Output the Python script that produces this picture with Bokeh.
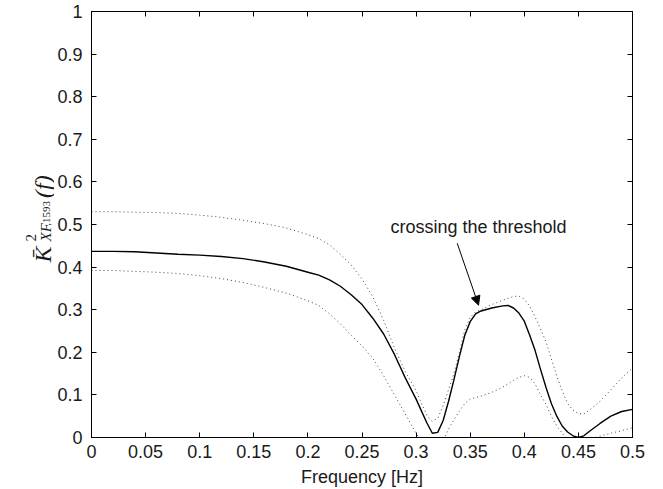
import math
from bokeh.plotting import figure
from bokeh.models import Range1d, FixedTicker, LinearAxis, Label, Arrow, NormalHead
from bokeh.layouts import row
from bokeh.core.properties import value
from bokeh.embed import file_html
from bokeh.resources import INLINE

# ---- data ----
freq = [0.0, 0.02, 0.04, 0.06, 0.08, 0.10, 0.12, 0.14, 0.16, 0.18, 0.20, 0.21, 0.22, 0.23,
        0.24, 0.25, 0.26, 0.27, 0.28, 0.29, 0.30, 0.305, 0.31, 0.315, 0.32, 0.325, 0.33,
        0.335, 0.34, 0.345, 0.35, 0.355, 0.36, 0.37, 0.38, 0.385, 0.39, 0.395, 0.40, 0.405,
        0.41, 0.415, 0.42, 0.425, 0.43, 0.435, 0.44, 0.445, 0.45, 0.455, 0.46, 0.47, 0.48,
        0.49, 0.50]

coherence = [0.437, 0.437, 0.436, 0.433, 0.430, 0.428, 0.425, 0.420, 0.412, 0.402, 0.388,
             0.381, 0.370, 0.355, 0.335, 0.312, 0.280, 0.243, 0.195, 0.140, 0.090, 0.062,
             0.034, 0.010, 0.012, 0.040, 0.085, 0.136, 0.190, 0.240, 0.272, 0.290, 0.297,
             0.304, 0.309, 0.310, 0.304, 0.292, 0.273, 0.240, 0.204, 0.160, 0.118, 0.080,
             0.050, 0.027, 0.013, 0.004, 0.000, 0.004, 0.014, 0.033, 0.050, 0.061, 0.066]

upper = [0.530, 0.530, 0.529, 0.528, 0.526, 0.522, 0.517, 0.510, 0.502, 0.492, 0.476,
         0.467, 0.452, 0.430, 0.405, 0.372, 0.330, 0.275, 0.210, 0.155, 0.110, 0.080,
         0.052, 0.038, 0.045, 0.075, 0.112, 0.150, 0.200, 0.253, 0.282, 0.295, 0.300,
         0.312, 0.322, 0.327, 0.331, 0.332, 0.325, 0.308, 0.283, 0.255, 0.225, 0.185,
         0.144, 0.110, 0.080, 0.064, 0.056, 0.055, 0.064, 0.085, 0.112, 0.140, 0.163]

lower = [0.392, 0.392, 0.390, 0.388, 0.385, 0.380, 0.373, 0.364, 0.352, 0.339, 0.321,
         0.310, 0.290, 0.267, 0.240, 0.215, 0.186, 0.145, 0.100, 0.055, 0.010, -0.010,
         -0.030, -0.040, -0.030, -0.008, 0.020, 0.042, 0.062, 0.080, 0.090, 0.094, 0.097,
         0.106, 0.118, 0.126, 0.134, 0.141, 0.145, 0.141, 0.126, 0.100, 0.078, 0.050,
         0.027, 0.010, -0.005, -0.015, -0.020, -0.018, -0.005, 0.003, 0.010, 0.016, 0.023]

x_ticks = [0, 0.05, 0.1, 0.15, 0.2, 0.25, 0.3, 0.35, 0.4, 0.45, 0.5]
x_tick_labels = ["0", "0.05", "0.1", "0.15", "0.2", "0.25", "0.3", "0.35", "0.4", "0.45", "0.5"]
y_ticks = [0, 0.1, 0.2, 0.3, 0.4, 0.5, 0.6, 0.7, 0.8, 0.9, 1.0]
y_tick_labels = ["0", "0.1", "0.2", "0.3", "0.4", "0.5", "0.6", "0.7", "0.8", "0.9", "1"]

SANS = "Liberation Sans"
SERIF = "Liberation Serif"
TXT = "#1a1a1a"
LABEL_W = 54

p = figure(width=663 - LABEL_W, height=489, output_backend="svg", toolbar_location=None,
           x_range=Range1d(0, 0.5), y_range=Range1d(0, 1),
           min_border_left=91 - LABEL_W, min_border_right=31, min_border_top=11,
           min_border_bottom=51)
p.background_fill_color = "white"
p.border_fill_color = "white"
p.grid.visible = False
p.outline_line_color = "black"
p.outline_line_width = 1


def style_axis(ax, ticks, labels=None, standoff=7):
    ax.ticker = FixedTicker(ticks=ticks)
    ax.major_tick_in = 5
    ax.major_tick_out = 0
    ax.minor_tick_line_color = None
    ax.axis_line_color = "black"
    ax.major_tick_line_color = "black"
    ax.major_label_text_font = SANS
    if labels is None:
        ax.major_label_text_color = None
        ax.major_label_text_font_size = "1px"
        ax.major_label_standoff = 0
    else:
        ax.major_label_text_color = TXT
        ax.major_label_text_font_size = "18px"
        ax.major_label_standoff = standoff
        ax.major_label_overrides = {t: l for t, l in zip(ticks, labels)}


style_axis(p.xaxis[0], x_ticks, x_tick_labels, standoff=7)
style_axis(p.yaxis[0], y_ticks, y_tick_labels, standoff=9)
p.xaxis[0].axis_label = "Frequency [Hz]"
p.xaxis[0].axis_label_text_font = SANS
p.xaxis[0].axis_label_text_font_size = "18px"
p.xaxis[0].axis_label_text_font_style = "normal"
p.xaxis[0].axis_label_text_color = TXT
p.xaxis[0].axis_label_standoff = 6

top_ax = LinearAxis()
style_axis(top_ax, x_ticks)
p.add_layout(top_ax, "above")
right_ax = LinearAxis()
style_axis(right_ax, y_ticks)
p.add_layout(right_ax, "right")

# curves
p.line(freq, upper, line_color="#444444", line_width=1, line_dash="1 3")
p.line(freq, lower, line_color="#444444", line_width=1, line_dash="1 3")
p.line(freq, coherence, line_color="black", line_width=1.4)

# annotation
p.add_layout(Label(x=0.3577, y=0.495, text="crossing the threshold", text_align="center",
                   text_baseline="middle", text_font=SANS, text_font_size="18px",
                   text_color=TXT))
p.add_layout(Arrow(end=NormalHead(size=9, fill_color="black", line_color="black", line_width=1),
                   x_start=0.338, y_start=0.456, x_end=0.3577, y_end=0.3107,
                   line_color="black", line_width=1))

# ---- y-axis label panel (pixel coordinates, built from pieces, rotated) ----
H = 489
lf = figure(width=LABEL_W, height=H, output_backend="svg", toolbar_location=None,
            x_range=Range1d(0, LABEL_W), y_range=Range1d(0, H),
            min_border=0, min_border_left=0, min_border_right=0,
            min_border_top=0, min_border_bottom=0)
lf.axis.visible = False
lf.grid.visible = False
lf.outline_line_color = None
lf.background_fill_color = "white"
lf.border_fill_color = "white"


def ylab(px, py, text, size, style="italic"):
    lf.text(x=[px], y=[H - py], text=[text], angle=math.pi / 2,
            text_align="left", text_baseline="alphabetic",
            text_font=value(SERIF), text_font_size=size, text_font_style=style,
            text_color=TXT)


ylab(42, 288, "K\u0304", "24px")
ylab(30, 264, "2", "15px", style="normal")
ylab(45, 264, "XF", "15px")
ylab(46, 246, ",1593", "11px", style="normal")
ylab(42, 214, "(f)", "24px")

layout = row(lf, p)
open("out.html", "w").write(file_html(layout, INLINE))
